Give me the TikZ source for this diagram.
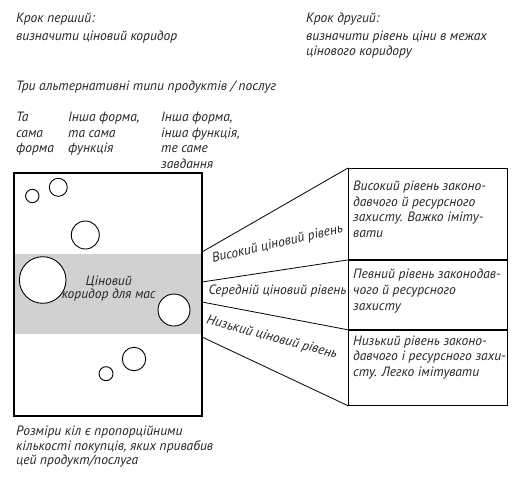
\documentclass[tikz,border=0pt]{standalone}
\usepackage{fontspec}
\setmainfont{PT Sans}
\begin{document}
\begin{tikzpicture}[x=1pt,y=-1pt,
  txt/.style={anchor=base west, inner sep=0pt, font=\itshape\fontsize{13.5}{15}\selectfont, text=black!85},
  ctxt/.style={txt, anchor=base},
  circ/.style={circle, draw=black, line width=0.9pt, fill=white, inner sep=0pt},
  boxst/.style={rectangle, draw=black, line width=0.9pt, inner sep=0pt, anchor=north west, minimum width=159pt},
  conn/.style={draw=black, line width=0.8pt}]
\useasboundingbox (0,0) rectangle (517,485);
\fill[white] (0,0) rectangle (517,485);
% band and frame
\node[fill=black!18, inner sep=0pt, minimum width=187pt, minimum height=80pt] (band) at (108,294) {};
\node[draw=black, line width=2pt, inner sep=0pt, minimum width=188pt, minimum height=243pt] (frame) at (108,294.5) {};
% circles
\node[circ, minimum size=13.4pt] (c1) at (32.3,196) {};
\node[circ, minimum size=18pt] (c2) at (58.3,187.3) {};
\node[circ, minimum size=28pt] (c3) at (85.3,235) {};
\node[circ, minimum size=46.6pt] (c4) at (42.7,280) {};
\node[circ, minimum size=32pt] (c5) at (174,310) {};
\node[circ, minimum size=23.4pt] (c6) at (134,359) {};
\node[circ, minimum size=14pt] (c7) at (106,373.7) {};
\node[txt, anchor=center, align=center, font=\itshape\fontsize{13.5}{11}\selectfont] (m) at (108.7,288.7) {Ціновий\\коридор для мас};
% right boxes
\node[boxst, minimum height=91pt] (b1) at (348,168) {};
\node[boxst, minimum height=69pt] (b2) at (b1.south west) {};
\node[boxst, minimum height=75pt] (b3) at (b2.south west) {};
% connectors
\coordinate (p1) at (202,252);
\coordinate (p2) at (202,282);
\coordinate (p3) at (202,302);
\coordinate (p4) at (202,337);
\draw[conn] (p1) -- (b1.north west);
\draw[conn] (p2) -- (b1.south west);
\draw[conn] (p3) -- (b2.south west);
\draw[conn] (p4) -- (b3.south west);
% level labels
\node[ctxt, rotate=13] (l1) at (278.3,247.5) {Високий ціновий рівень};
\node[ctxt] (l2) at (277.5,294.5) {Середній ціновий рівень};
\node[ctxt, rotate=-15] (l3) at (271,341) {Низький ціновий рівень};
% box texts
\node[txt] (x1) at (353,190.5) {Високий рівень законо-};
\node[txt] (x2) at (353,206) {давчого й ресурсного};
\node[txt] (x3) at (353,221.5) {захисту. Важко іміту-};
\node[txt] (x4) at (353,237) {вати};
\node[txt] (y1) at (353,278.5) {Певний рівень законодав-};
\node[txt] (y2) at (353,294.3) {чого й ресурсного};
\node[txt] (y3) at (353,310) {захисту};
\node[txt] (z1) at (353,345) {Низький рівень законо-};
\node[txt] (z2) at (353,360.5) {давчого і ресурсного захи-};
\node[txt] (z3) at (353,376) {сту. Легко імітувати};
% top texts
\node[txt] (s1) at (16,22.5) {Крок перший:};
\node[txt] (s2) at (16,40.8) {визначити ціновий коридор};
\node[txt] (r1) at (306,22.5) {Крок другий:};
\node[txt] (r2) at (306,40.8) {визначити рівень ціни в межах};
\node[txt] (r3) at (306,55.5) {цінового коридору};
\node[txt] (h1) at (16,90.5) {Три альтернативні типи продуктів / послуг};
\node[txt] (a1) at (16,121.5) {Та};
\node[txt] (a2) at (16,137) {сама};
\node[txt] (a3) at (16,152.5) {форма};
\node[txt] (d1) at (68,121.5) {Інша форма,};
\node[txt] (d2) at (68,137) {та сама};
\node[txt] (d3) at (68,152.5) {функція};
\node[txt] (e1) at (161,121.5) {Інша форма,};
\node[txt] (e2) at (161,137) {інша функція,};
\node[txt] (e3) at (161,152.5) {те саме};
\node[txt] (e4) at (161,168) {завдання};
% bottom
\node[txt] (f1) at (16,435) {Розміри кіл є пропорційними};
\node[txt] (f2) at (16,450) {кількості покупців, яких привабив};
\node[txt] (f3) at (16,464.5) {цей продукт/послуга};
\end{tikzpicture}
\end{document}
